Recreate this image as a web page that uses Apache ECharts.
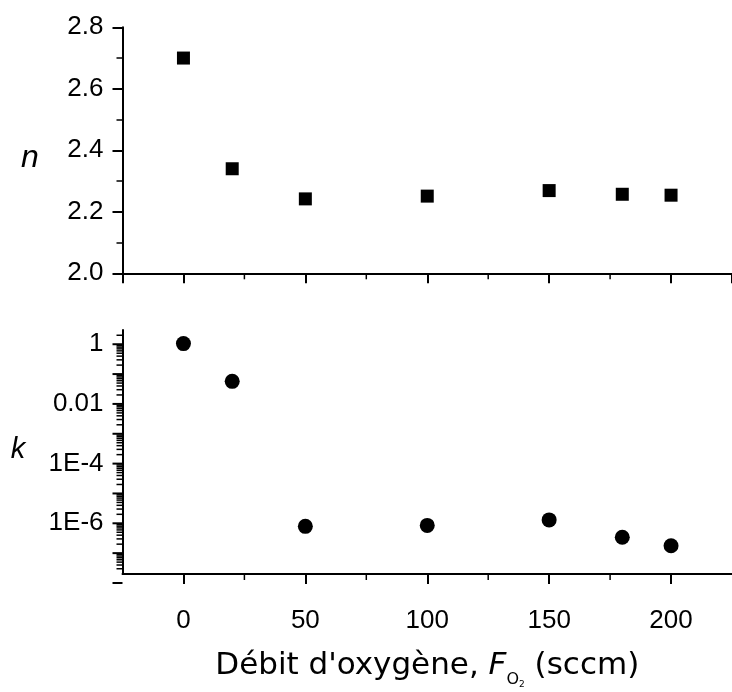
<!DOCTYPE html>
<html>
<head>
<meta charset="utf-8">
<script src="https://cdn.jsdelivr.net/npm/echarts@6/dist/echarts.min.js"></script>
<style>
html,body{margin:0;padding:0;background:#fff;}
#chart{width:732px;height:692px;}
</style>
</head>
<body>
<div id="chart"></div>
<script>
// ---- data ----
var flow = [0, 20, 50, 100, 150, 180, 200];
var nValues = [2.70, 2.34, 2.242, 2.251, 2.269, 2.257, 2.254];
var kValues = [1.05, 0.057, 7.9e-7, 8.5e-7, 1.3e-6, 3.4e-7, 1.76e-7];
var nTicks = [2.0, 2.2, 2.4, 2.6, 2.8];
var kLabelExps = [0, -2, -4, -6];
var kDecadeExps = [0, -1, -2, -3, -4, -5, -6, -7, -8];
var xLabels = [0, 50, 100, 150, 200];
var xMinorTicks = [25, 75, 125, 175];

var FONT = 'Liberation Sans';
var TFONT = 'DejaVu Sans';
var xMin = -25, xMax = 225;
var kMin = 2e-8, kMax = 3;

function pairs(xs, ys){ return xs.map(function(x,i){ return [x, ys[i]]; }); }

// minor tick values for log axis (2..9 in each decade)
var kMinor = [];
kDecadeExps.forEach(function(e){
  for (var m = 2; m <= 9; m++){
    var v = m * Math.pow(10, e);
    if (v > kMin && v < kMax) kMinor.push([v, 0]);
  }
});
var kMajor = kDecadeExps.map(function(e){ return [Math.pow(10, e), 1]; });

function kLabel(v){
  var e = Math.round(Math.log10(v));
  if (Math.abs(Math.log10(v) - e) > 1e-6) return '';
  if (kLabelExps.indexOf(e) < 0) return '';
  if (e === 0) return '1';
  if (e === -2) return '0.01';
  return '1E' + e;
}

var axisLineStyle = {color:'#000', width:2};
var labelStyle = {color:'#000', fontFamily:FONT, fontSize:26};

function xAxisCfg(grid, withLabels){
  var a = {type:'value', gridIndex:grid, min:xMin, max:xMax, splitNumber:5,
     axisLine:{show:true, onZero:false, lineStyle:axisLineStyle},
     axisTick:{show:true, inside:false, length:10, lineStyle:{color:'#000', width:2}},
     minorTick:{show:false},
     splitLine:{show:false}};
  if (withLabels){
    a.axisLabel = Object.assign({show:true, margin:34, showMinLabel:false, showMaxLabel:false,
       formatter:function(v){ return xLabels.indexOf(v) >= 0 ? String(v) : ''; }}, labelStyle);
  } else {
    a.axisLabel = {show:false};
  }
  return a;
}

function xMinorSeries(idx){
  return {type:'custom', xAxisIndex:idx, yAxisIndex:idx, silent:true, clip:false, z:5,
    data:xMinorTicks.map(function(v){ return [v]; }),
    renderItem:function(params, api){
      var v = api.value(0);
      var yBase = idx === 0 ? 2.0 : kMin;
      var p = api.coord([v, yBase]);
      return {type:'line', shape:{x1:p[0], y1:p[1], x2:p[0], y2:p[1]+6},
              style:{stroke:'#000', lineWidth:1.5}};
    },
    encode:{x:0, y:-1}};
}

var x2Name = '{r|Débit d\'oxygène, }{it|F}{sub|O}{sub2|2}{r| (sccm)}';

var chart = echarts.init(document.getElementById('chart'), null, {renderer:'canvas'});
var xa0 = xAxisCfg(0, false);
var xa1 = xAxisCfg(1, true);
xa1.name = x2Name;
xa1.nameLocation = 'middle';
xa1.nameGap = 69;
xa1.nameTextStyle = {
  rich:{
    r:{fontFamily:TFONT, fontSize:31, color:'#000', lineHeight:46, verticalAlign:'middle'},
    it:{fontFamily:TFONT, fontSize:31, fontStyle:'italic', color:'#000', lineHeight:46, verticalAlign:'middle'},
    sub:{fontFamily:TFONT, fontSize:16, color:'#000', lineHeight:18, verticalAlign:'bottom', padding:[0,0,1,0]},
    sub2:{fontFamily:TFONT, fontSize:9, color:'#000', lineHeight:10, verticalAlign:'bottom'}
  }
};

chart.setOption({
  animation:false,
  backgroundColor:'#fff',
  grid:[
    {left:122.5, top:27.3, width:618.4, height:246},
    {left:122.5, top:330, width:618.4, height:244}
  ],
  xAxis:[xa0, xa1],
  yAxis:[
    {type:'value', gridIndex:0, min:2.0, max:2.8, interval:0.2,
     axisLine:{show:true, onZero:false, lineStyle:axisLineStyle},
     axisTick:{show:true, inside:false, length:10, lineStyle:{color:'#000', width:2}},
     minorTick:{show:true, splitNumber:2, length:6, lineStyle:{color:'#000', width:1.5}},
     axisLabel:Object.assign({margin:19, formatter:function(v){ return v.toFixed(1); }}, labelStyle),
     splitLine:{show:false}},
    {type:'log', gridIndex:1, min:kMin, max:kMax, logBase:10,
     axisLine:{show:true, onZero:false, lineStyle:axisLineStyle},
     axisTick:{show:false},
     axisLabel:Object.assign({margin:19, showMinLabel:false, showMaxLabel:false, formatter:kLabel}, labelStyle),
     splitLine:{show:false}}
  ],
  graphic:[
    {type:'text', x:30, y:158, style:{text:'n', fontFamily:FONT, fontSize:32, fontStyle:'italic', fill:'#000', align:'center', verticalAlign:'middle'}},
    {type:'text', x:18, y:450, style:{text:'k', fontFamily:FONT, fontSize:29, fontStyle:'italic', fill:'#000', align:'center', verticalAlign:'middle'}}
  ],
  series:[
    {type:'scatter', xAxisIndex:0, yAxisIndex:0, data:pairs(flow, nValues),
     symbol:'rect', symbolSize:13, itemStyle:{color:'#000', opacity:1}, silent:true},
    {type:'scatter', xAxisIndex:1, yAxisIndex:1, data:pairs(flow, kValues),
     symbol:'circle', symbolSize:15, itemStyle:{color:'#000', opacity:1}, silent:true},
    {type:'custom', xAxisIndex:1, yAxisIndex:1, silent:true, clip:false, z:5,
     data:kMinor.concat(kMajor),
     renderItem:function(params, api){
       var v = api.value(0), major = api.value(1);
       var p = api.coord([xMin, v]);
       var len = major ? 10 : 6;
       return {type:'line', shape:{x1:p[0]-len, y1:p[1], x2:p[0], y2:p[1]},
               style:{stroke:'#000', lineWidth: major ? 2 : 1.5}};
     },
     encode:{x:-1, y:0}},
    xMinorSeries(0),
    xMinorSeries(1)
  ]
});
</script>
</body>
</html>
